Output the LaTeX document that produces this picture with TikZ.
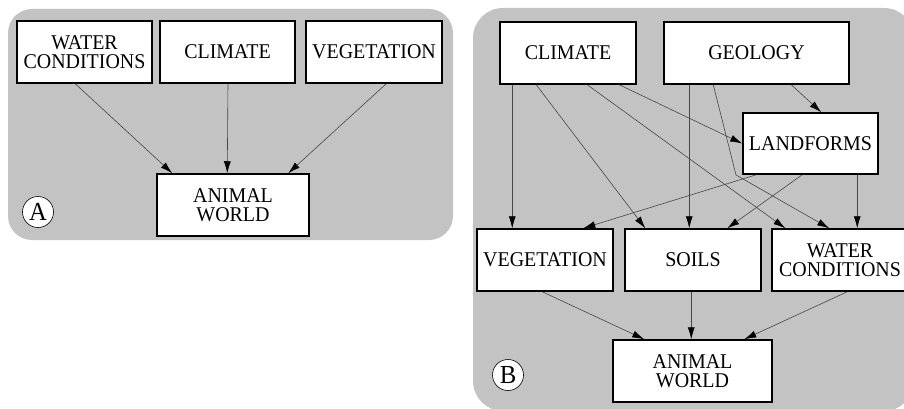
\documentclass[tikz,border=0pt]{standalone}
\usepackage{fontspec}
\setmainfont{Liberation Serif}[FakeStretch=0.95]
\usetikzlibrary{arrows.meta}
\definecolor{panelgrey}{RGB}{195,195,195}
\definecolor{linegrey}{RGB}{70,70,70}
\tikzset{
  box/.style={draw=black, line width=1.5pt, fill=white, inner sep=0pt,
    align=center, font=\fontsize{21}{19.5}\selectfont},
  panel/.style={fill=panelgrey, draw=none},
  tag/.style={circle, draw=black, line width=0.6pt, fill=white, minimum size=31pt,
    inner sep=0pt, font=\fontsize{26}{26}\selectfont},
  link/.style={draw=linegrey, line width=0.6pt, -{Latex[length=12pt,width=7pt,color=black]}},
  plain/.style={draw=linegrey, line width=0.6pt}
}
\begin{document}
\begin{tikzpicture}[x=1pt,y=-1pt]
\useasboundingbox (0,0) rectangle (904,409);
% panels
\fill[panel, rounded corners=24pt] (8,9) rectangle (453,240);
\fill[panel, rounded corners=30pt] (473,8) rectangle (914,411);

% ---------- Panel A ----------
\node[box, minimum width=135pt, minimum height=62pt] (aw) at (84.5,52) {WATER\\CONDITIONS};
\node[box, minimum width=135pt, minimum height=62pt] (ac) at (227.5,52) {CLIMATE};
\node[box, minimum width=136pt, minimum height=62pt] (av) at (374,52) {VEGETATION};
\node[box, minimum width=152pt, minimum height=62pt] (aa) at (233,205) {ANIMAL\\WORLD};
\node[tag] (ta) at (38,212) {A};

\draw[link] ([xshift=59pt]aw.south west) -- ([xshift=16pt]aa.north west);
\draw[link] ([xshift=0.5pt]ac.south) -- ([xshift=71pt]aa.north west);
\draw[link] ([xshift=81pt]av.south west) -- ([xshift=132pt]aa.north west);

% ---------- Panel B ----------
\node[box, minimum width=136pt, minimum height=62pt] (bc) at (568,53) {CLIMATE};
\node[box, minimum width=185pt, minimum height=62pt] (bg) at (756.5,53) {GEOLOGY};
\node[box, minimum width=135pt, minimum height=61pt] (bl) at (810.5,143.5) {LANDFORMS};
\node[box, minimum width=136pt, minimum height=62pt] (bv) at (545,260) {VEGETATION};
\node[box, minimum width=136pt, minimum height=62pt] (bs) at (693,260) {SOILS};
\node[box, minimum width=136pt, minimum height=62pt] (bw) at (840,260) {WATER\\CONDITIONS};
\node[box, minimum width=159pt, minimum height=62pt] (ba) at (692.5,371) {ANIMAL\\WORLD};
\node[tag] (tb) at (508,375) {B};

\coordinate (gbend) at (736,175);

% from climate
\draw[link] ([xshift=13pt]bc.south west) -- ([xshift=36pt]bv.north west);
\draw[link] ([xshift=37pt]bc.south west) -- ([xshift=21pt]bs.north west);
\draw[link] ([xshift=88pt]bc.south west) -- ([xshift=14pt]bw.north west);
\draw[link] ([xshift=120pt]bc.south west) -- (bl.west);
% from geology
\draw[link] ([xshift=26pt]bg.south west) -- ([xshift=65pt]bs.north west);
\draw[link] ([xshift=50pt]bg.south west) -- (gbend) -- ([xshift=58pt]bw.north west);
\draw[link] ([xshift=128pt]bg.south west) -- ([xshift=79pt]bl.north west);
% from landforms
\draw[link] ([xshift=14pt]bl.south west) -- ([xshift=107pt]bv.north west);
\draw[link] ([xshift=60pt]bl.south west) -- ([xshift=103pt]bs.north west);
\draw[link] ([xshift=115pt]bl.south west) -- ([xshift=86pt]bw.north west);
% to animal world
\draw[link] ([xshift=66pt]bv.south west) -- ([xshift=32pt]ba.north west);
\draw[link] ([xshift=67pt]bs.south west) -- ([xshift=79pt]ba.north west);
\draw[link] ([xshift=76pt]bw.south west) -- ([xshift=132pt]ba.north west);
\end{tikzpicture}
\end{document}
